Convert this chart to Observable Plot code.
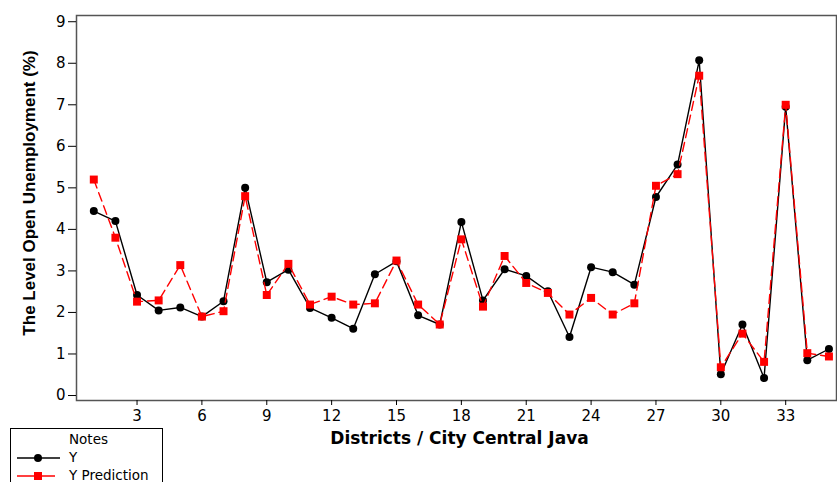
<!DOCTYPE html>
<html>
<head>
<meta charset="utf-8">
<script src="https://cdn.jsdelivr.net/npm/d3@7"></script>
<script src="https://cdn.jsdelivr.net/npm/@observablehq/plot@0.6"></script>
<style>
  html, body { margin: 0; padding: 0; background: #fff; }
  #wrap { position: relative; width: 837px; height: 482px; overflow: hidden; }
  #legend { position: absolute; left: 10px; top: 428px; }
</style>
</head>
<body>
<div id="wrap"></div>
<script>
const districts = [1,2,3,4,5,6,7,8,9,10,11,12,13,14,15,16,17,18,19,20,21,22,23,24,25,26,27,28,29,30,31,32,33,34,35];
const yActual = [4.44,4.20,2.42,2.05,2.12,1.90,2.27,5.00,2.73,3.03,2.11,1.87,1.61,2.92,3.23,1.93,1.71,4.18,2.29,3.04,2.88,2.51,1.41,3.09,2.97,2.67,4.78,5.56,8.07,0.51,1.71,0.42,6.95,0.85,1.12];
const yPred   = [5.20,3.80,2.26,2.29,3.14,1.90,2.03,4.80,2.42,3.17,2.19,2.38,2.19,2.22,3.25,2.19,1.71,3.76,2.14,3.36,2.71,2.47,1.95,2.35,1.95,2.22,5.05,5.33,7.70,0.68,1.49,0.81,7.00,1.02,0.94];
const xTicks = [3,6,9,12,15,18,21,24,27,30,33];
const yTicks = [0,1,2,3,4,5,6,7,8,9];
const xTitle = "Districts / City Central Java";
const yTitle = "The Level Open Unemployment (%)";
const seriesNames = ["Y", "Y Prediction"];
const legendTitle = "Notes";

const actualRows = districts.map((d, i) => ({d, v: yActual[i]}));
const predRows = districts.map((d, i) => ({d, v: yPred[i]}));

const chart = Plot.plot({
  width: 837,
  height: 482,
  marginTop: 15,
  marginBottom: 82,
  marginLeft: 76,
  marginRight: 1,
  style: {fontFamily: "DejaVu Sans, Verdana, sans-serif", fontSize: "15px", color: "#000", background: "#fff"},
  x: {domain: [0.2, 35.35], label: null},
  y: {domain: [-0.12, 9.15], label: null},
  marks: [
    Plot.frame({stroke: "#555", strokeWidth: 1.5}),
    Plot.axisX({ticks: xTicks, tickSize: 5, tickPadding: 5, fontSize: 15, label: null, tickFormat: d => String(d)}),
    Plot.axisY({ticks: yTicks, tickSize: 8, tickPadding: 3, fontSize: 15, label: null, tickFormat: d => String(d)}),
    Plot.lineY(actualRows, {x: "d", y: "v", stroke: "#000", strokeWidth: 1.4}),
    Plot.dot(actualRows, {x: "d", y: "v", r: 4, fill: "#000", stroke: "none"}),
    Plot.lineY(predRows, {x: "d", y: "v", stroke: "#ff0000", strokeWidth: 1.4, strokeDasharray: "9,5"}),
    Plot.dot(predRows, {x: "d", y: "v", symbol: "square", r: 4.5, fill: "#ff0000", stroke: "none"}),
    Plot.text([xTitle], {frameAnchor: "bottom", dy: 38, text: d => d, fontWeight: "bold", fontSize: 17,
      textAnchor: "middle", lineAnchor: "middle", dx: 3, fontFamily: "DejaVu Sans, Verdana, sans-serif", ariaLabel: "xtitle"}),
    Plot.text([yTitle], {frameAnchor: "left", dx: -47, dy: -15, rotate: -90, text: d => d, fontWeight: "bold", fontSize: 17,
      textAnchor: "middle", lineAnchor: "middle", fontFamily: "Liberation Sans, Arial, sans-serif", ariaLabel: "ytitle"})
  ]
});
document.getElementById("wrap").appendChild(chart);

// stretch titles to the reference's extents
const fit = (label, len) => {
  chart.querySelectorAll(`g[aria-label="${label}"] text`).forEach(t => {
    t.setAttribute("textLength", len);
    t.setAttribute("lengthAdjust", "spacingAndGlyphs");
  });
};
fit("xtitle", 272);
fit("ytitle", 320);

// legend
const ns = "http://www.w3.org/2000/svg";
const lg = document.createElementNS(ns, "svg");
lg.setAttribute("id", "legend");
lg.setAttribute("width", 155);
lg.setAttribute("height", 60);
lg.style.fontFamily = "DejaVu Sans, Verdana, sans-serif";
lg.style.fontSize = "13.5px";
lg.innerHTML = `
  <rect x="0.5" y="0.5" width="152" height="70" fill="#fff" stroke="#000" stroke-width="1"/>
  <text x="59" y="12" dominant-baseline="middle" fill="#000">${legendTitle}</text>
  <line x1="7" x2="50" y1="30" y2="30" stroke="#000" stroke-width="1.3"/>
  <circle cx="28" cy="30" r="4" fill="#000"/>
  <text x="59" y="30" dominant-baseline="middle" fill="#000">${seriesNames[0]}</text>
  <line x1="7" x2="45" y1="48" y2="48" stroke="#ff0000" stroke-width="1.3"/>
  <rect x="24" y="44" width="8" height="8" fill="#ff0000"/>
  <text x="59" y="48" dominant-baseline="middle" fill="#000">${seriesNames[1]}</text>
`;
document.getElementById("wrap").appendChild(lg);
</script>
</body>
</html>
